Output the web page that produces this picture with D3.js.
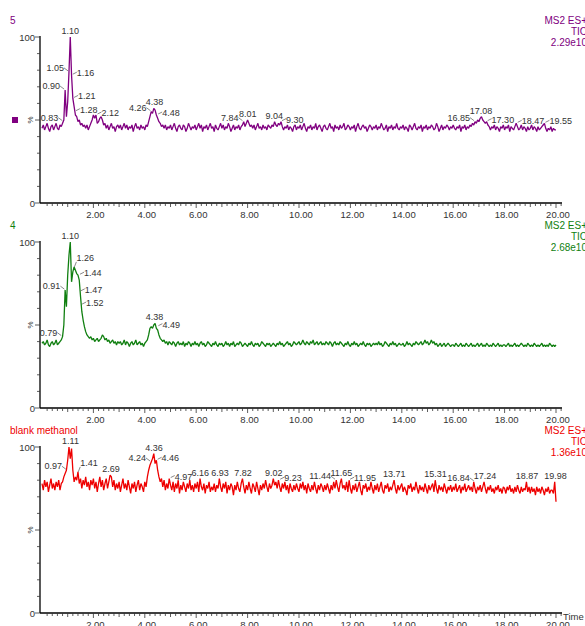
<!DOCTYPE html>
<html>
<head>
<meta charset="utf-8">
<script src="https://cdn.jsdelivr.net/npm/d3@7"></script>
<style>
  body { margin: 0; background: #fff; }
  svg text { font-family: "Liberation Sans", Arial, sans-serif; }
</style>
</head>
<body>
<svg id="chart" width="585" height="626"></svg>
<script>
// retention time axis (min)
const xTickLabels = [2, 4, 6, 8, 10, 12, 14, 16, 18, 20]
const sampleStep = 0.05 // one intensity reading every 0.05 min, 0.00 -> 20.00

// sample 5, relative intensity (%), one row per minute
const trace5 = [
  45,47,44,46,48,45,43,46,47,44,46,48,45,44,47,46,48,50,68,52,
  61,79,100,77,63,58,53,52,49,50,47,48,46,47,45,47,44,46,48,50,
  53,51,53,48,49,51,52,50,47,48,45,47,44,46,48,45,46,43,46,47,
  45,47,44,46,48,45,47,44,46,45,47,43,46,48,45,46,44,47,45,46,
  44,47,46,49,52,55,54,57,56,53,51,49,48,46,47,45,47,44,46,45,
  47,44,46,48,45,43,46,47,45,44,47,46,43,45,48,46,44,46,45,47,
  44,46,48,45,47,43,46,45,47,44,46,48,45,46,43,47,45,44,46,48,
  45,47,44,46,45,48,46,43,45,47,44,46,45,47,44,46,47,49,46,48,
  50,48,46,47,45,47,44,46,48,45,46,44,47,45,46,44,47,46,45,47,
  46,49,47,46,48,47,49,46,44,46,45,47,44,46,45,43,46,47,44,46,
  45,47,44,46,48,45,43,46,45,47,44,46,45,48,44,46,47,45,43,46,
  47,45,44,46,48,45,46,43,47,45,46,44,47,45,46,48,44,45,47,46,
  44,46,45,47,43,46,48,45,44,46,47,45,46,43,45,47,46,44,46,45,
  47,44,46,45,48,46,44,45,47,43,46,45,47,44,46,45,48,45,44,46,
  45,47,44,46,45,43,47,46,44,46,48,45,44,46,45,47,43,46,45,47,
  44,46,45,47,46,44,45,48,46,43,45,47,44,46,45,47,46,44,46,45,
  47,45,44,46,45,47,43,46,45,47,44,46,45,47,46,48,47,49,48,50,
  49,51,52,50,49,48,49,47,46,44,46,45,47,44,46,45,43,46,45,47,
  44,46,45,47,43,46,45,44,46,48,46,44,45,47,44,46,45,43,46,44,
  45,47,44,46,45,43,46,44,45,46,47,48,45,43,45,44,46,43,45,44,
  44
]

// sample 4
const trace4 = [
  39,40,38,39,41,38,37,39,40,38,39,41,38,39,40,41,43,50,71,61,
  80,92,100,76,82,85,83,81,80,77,67,58,53,49,46,44,43,42,43,41,
  42,40,41,42,40,41,42,44,43,41,42,40,41,39,40,41,39,40,38,40,
  39,40,38,39,41,38,40,39,37,39,40,38,39,41,38,39,40,38,39,37,
  39,40,41,44,48,49,48,50,51,48,47,44,42,41,40,41,39,40,38,40,
  39,38,40,39,37,39,40,38,39,38,40,37,39,38,40,39,37,39,38,40,
  38,39,37,39,40,38,39,37,38,40,39,38,37,39,38,40,38,37,39,38,
  39,37,38,40,38,39,37,39,38,40,37,38,39,38,40,39,37,38,39,38,
  37,39,38,40,38,37,39,38,39,37,38,40,39,38,37,39,38,39,37,38,
  39,38,37,39,38,40,38,39,37,38,39,40,38,39,37,38,40,39,38,39,
  40,38,39,41,39,38,40,39,38,40,39,41,38,39,40,38,39,40,38,39,
  38,40,39,38,40,39,37,39,40,38,39,38,40,39,38,37,39,38,40,38,
  37,39,38,40,38,39,37,38,39,38,40,38,37,39,38,39,37,38,39,38,
  39,38,40,38,39,37,38,40,39,38,37,39,38,40,38,39,37,38,39,38,
  38,39,37,38,40,38,39,38,37,39,38,40,39,38,39,40,38,39,41,39,
  40,38,39,41,39,40,38,39,37,38,39,37,38,39,37,38,39,38,37,38,
  38,37,39,38,37,38,39,37,38,37,39,38,37,38,39,37,38,37,38,39,
  37,38,39,37,38,37,39,38,37,38,37,39,38,37,38,39,37,38,37,38,
  38,37,38,39,37,38,37,38,39,37,38,37,38,39,38,37,38,37,39,38,
  37,38,37,39,38,37,38,37,38,39,37,38,37,38,37,39,38,37,38,37,
  38
]

// blank methanol
const traceBlank = [
  78,74,80,76,79,73,77,81,75,78,74,79,76,80,74,78,79,82,84,86,
  92,100,93,99,86,79,82,80,85,78,81,75,80,77,82,76,79,74,80,77,
  81,75,79,73,78,82,76,80,74,78,81,75,79,83,82,76,80,74,78,75,
  79,73,77,81,75,78,74,80,76,72,78,75,79,73,77,80,74,78,76,73,
  79,76,82,86,89,91,93,96,90,92,86,82,79,81,76,80,74,78,75,81,
  77,74,79,73,78,75,80,72,77,74,79,76,73,78,75,80,74,77,73,78,
  75,79,73,81,76,74,78,72,77,75,79,73,76,74,78,73,77,75,81,76,
  73,78,75,79,72,77,74,78,76,71,77,74,79,75,73,78,81,76,72,77,
  74,79,75,72,78,76,73,79,75,71,77,74,78,75,80,76,73,78,75,77,
  81,77,79,75,80,76,73,78,75,79,74,77,72,78,75,73,77,74,78,75,
  73,78,75,79,74,77,72,78,75,73,77,74,79,75,72,77,74,78,76,73,
  77,74,78,75,72,77,74,79,75,80,76,73,78,81,75,77,74,79,73,80,
  75,72,77,74,78,73,76,79,74,71,77,75,78,73,76,74,79,75,72,77,
  74,78,73,76,79,74,72,77,75,78,73,76,74,77,80,75,72,77,74,76,
  78,73,76,74,71,77,75,78,73,76,74,79,75,72,77,74,76,73,78,75,
  72,77,74,76,78,73,80,75,72,77,74,76,73,78,75,72,76,74,77,73,
  76,74,78,73,75,77,72,76,74,78,73,75,77,74,76,73,79,75,72,76,
  74,77,73,76,79,75,72,76,74,77,73,75,72,76,74,77,73,75,72,76,
  75,72,76,74,77,73,75,72,76,73,77,74,72,76,73,75,74,79,73,76,
  72,76,73,75,71,76,73,75,72,76,74,71,75,73,76,72,74,74,72,79,
  67
]

// peak labels: [retention time, apex %, side of the label]
const peaks5 = [
  [1.10, 100, 'c'], [1.05, 79, 'l'], [1.16, 77, 'r'], [0.90, 68, 'l'], [1.21, 63, 'r'],
  [1.28, 55, 'r'], [0.83, 49, 'l'], [2.12, 53, 'r'], [4.26, 55, 'l'], [4.38, 57, 'c'],
  [4.48, 53, 'r'], [7.84, 49, 'l'], [8.01, 50, 'c'], [9.04, 49, 'c'], [9.30, 49, 'r'],
  [16.85, 49, 'l'], [17.08, 52, 'c'], [17.30, 49, 'r'], [18.47, 48, 'r'], [19.55, 48, 'r']
]
const peaks4 = [
  [1.10, 100, 'c'], [1.26, 85, 'u'], [1.44, 80, 'r'], [1.47, 70, 'r'], [1.52, 62, 'r'],
  [0.91, 71, 'l'], [0.79, 43, 'l'], [4.38, 51, 'c'], [4.49, 49, 'r']
]
const peaksBlank = [
  [1.11, 100, 'c'], [0.97, 86, 'l'], [1.41, 85, 'u'], [2.69, 83, 'c'], [4.24, 91, 'l'],
  [4.36, 96, 'c'], [4.46, 92, 'r'], [4.97, 81, 'r'], [6.16, 81, 'c'], [6.93, 81, 'c'],
  [7.82, 81, 'c'], [9.02, 81, 'c'], [9.23, 80, 'r'], [11.44, 80, 'l'], [11.65, 81, 'c'],
  [11.95, 80, 'r'], [13.71, 80, 'c'], [15.31, 80, 'c'], [16.84, 79, 'l'], [17.24, 79, 'c'],
  [18.87, 79, 'c'], [19.98, 79, 'c']
]

const panels = [
  { title: '5', values: trace5, peaks: peaks5, scan: 'MS2 ES+', tic: 'TIC', maxI: '2.29e10', color: '#800080', top: 37, marker: true },
  { title: '4', values: trace4, peaks: peaks4, scan: 'MS2 ES+', tic: 'TIC', maxI: '2.68e10', color: '#107f10', top: 242 },
  { title: 'blank methanol', values: traceBlank, peaks: peaksBlank, scan: 'MS2 ES+', tic: 'TIC', maxI: '1.36e10', color: '#ee0000', top: 447, last: true }
]

const panelHeight = 166
const svg = d3.select('#chart')
const x = d3.scaleLinear().domain([0, 20]).range([42, 556])
const axisEnd = 562
const textColor = '#333'
const labelSize = 9
const tickSize = 9.5

panels.forEach(p => {
  const g = svg.append('g')
  const y = d3.scaleLinear().domain([0, 100]).range([p.top + panelHeight, p.top])

  // titles
  g.append('text').attr('x', 10).attr('y', p.top - 13)
    .attr('font-size', 10).attr('fill', p.color).text(p.title)
  const hdr = [p.scan, p.tic, p.maxI]
  const hdrDy = [-13, -2, 9]
  hdr.forEach((t, i) => {
    g.append('text').attr('x', 587).attr('y', p.top + hdrDy[i])
      .attr('text-anchor', 'end').attr('font-size', 10).attr('fill', p.color).text(t)
  })

  if (p.marker) {
    g.append('rect').attr('x', 12).attr('y', y(50) - 3).attr('width', 6).attr('height', 6)
      .attr('fill', p.color)
  }

  // y axis
  g.append('line').attr('x1', 40).attr('x2', 40).attr('y1', y(100) - 1).attr('y2', y(0))
    .attr('stroke', '#000').attr('stroke-width', 1.3)
  d3.range(0, 101, 10).forEach(v => {
    const len = (v === 0 || v === 100 || v === 50) ? 5 : 3
    g.append('line').attr('x1', 40 - len).attr('x2', 40).attr('y1', y(v)).attr('y2', y(v))
      .attr('stroke', '#333').attr('stroke-width', 0.8)
  })
  g.append('text').attr('x', 35).attr('y', y(100) + 4).attr('text-anchor', 'end')
    .attr('font-size', tickSize).attr('fill', textColor).text('100')
  g.append('text').attr('x', 35).attr('y', y(0) + 4).attr('text-anchor', 'end')
    .attr('font-size', tickSize).attr('fill', textColor).text('0')
  g.append('text').attr('transform', `translate(33,${y(50)}) rotate(-90)`)
    .attr('text-anchor', 'middle').attr('font-size', 8).attr('fill', textColor).text('%')

  // x axis
  g.append('line').attr('x1', 40).attr('x2', axisEnd).attr('y1', y(0)).attr('y2', y(0))
    .attr('stroke', '#000').attr('stroke-width', 1.3)
  d3.range(0.2, 20.21, 0.2).forEach(t => {
    const r = Math.round(t * 10) / 10
    const len = (r % 2 === 0) ? 5 : (r % 1 === 0 ? 4 : 3)
    g.append('line').attr('x1', x(r)).attr('x2', x(r)).attr('y1', y(0)).attr('y2', y(0) + len)
      .attr('stroke', '#333').attr('stroke-width', 0.8)
  })
  g.selectAll('text.xt').data(xTickLabels).join('text').attr('class', 'xt')
    .attr('x', d => x(d) + 2).attr('y', y(0) + 15).attr('text-anchor', 'middle')
    .attr('font-size', tickSize).attr('fill', textColor).text(d => d.toFixed(2))
  if (p.last) {
    g.append('text').attr('x', 563).attr('y', y(0) + 7).attr('font-size', tickSize)
      .attr('fill', textColor).text('Time')
  }

  // chromatogram
  const line = d3.line().x((d, i) => x(i * sampleStep)).y(d => y(d))
  g.append('path').datum(p.values).attr('d', line)
    .attr('fill', 'none').attr('stroke', p.color).attr('stroke-width', 1.3)
    .attr('stroke-linejoin', 'bevel')

  // peak labels
  p.peaks.forEach(([t, v, side]) => {
    const px = x(t), py = y(v)
    const label = g.append('text').attr('font-size', labelSize).attr('fill', textColor).text(t.toFixed(2))
    if (side === 'c') {
      label.attr('x', px).attr('y', py - 3).attr('text-anchor', 'middle')
    } else if (side === 'l') {
      label.attr('x', px - 5).attr('y', py - 1).attr('text-anchor', 'end')
      g.append('line').attr('x1', px - 5).attr('y1', py - 4).attr('x2', px - 1).attr('y2', py - 1)
        .attr('stroke', '#555').attr('stroke-width', 0.7)
    } else if (side === 'u') {
      label.attr('x', px + 2).attr('y', py - 6).attr('text-anchor', 'start')
      g.append('line').attr('x1', px).attr('y1', py).attr('x2', px + 2).attr('y2', py - 5)
        .attr('stroke', '#555').attr('stroke-width', 0.7)
    } else {
      label.attr('x', px + 5).attr('y', py + 1).attr('text-anchor', 'start')
      g.append('line').attr('x1', px + 1).attr('y1', py - 1).attr('x2', px + 5).attr('y2', py - 3)
        .attr('stroke', '#555').attr('stroke-width', 0.7)
    }
  })
})
</script>
</body>
</html>
